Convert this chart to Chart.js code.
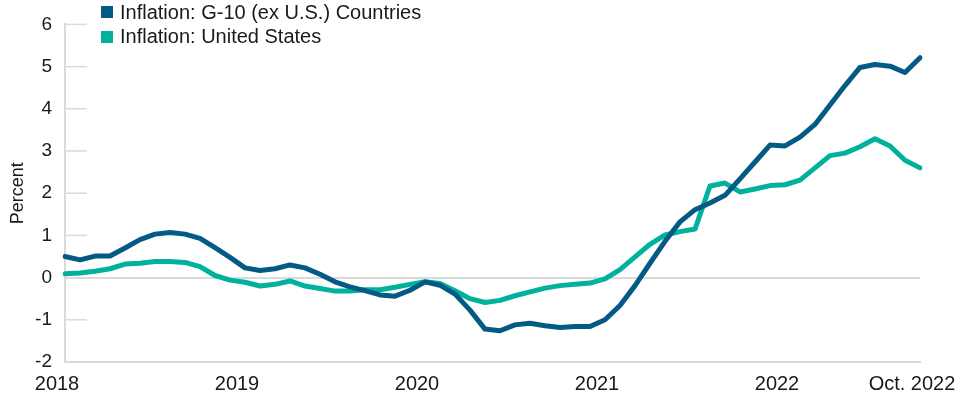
<!DOCTYPE html>
<html>
<head>
<meta charset="utf-8">
<script src="https://cdn.jsdelivr.net/npm/chart.js@4.4.0/dist/chart.umd.min.js"></script>
<style>
  html, body { margin: 0; padding: 0; background: #fff; }
  #wrap { position: relative; width: 960px; height: 395px; }
  #legend {
    position: absolute; left: 101px; top: 0px;
    font-family: "Liberation Sans", Arial, Helvetica, sans-serif;
    font-size: 20px; color: #1a1a1a;
  }
  #legend .item { display: flex; align-items: center; height: 24.5px; }
  #legend .box { width: 12px; height: 12px; margin-right: 7px; }
</style>
</head>
<body>
<div id="wrap">
  <canvas id="inflationChart"></canvas>
  <div id="legend"></div>
</div>
<script>
// monthly observations, Jan 2018 - Oct 2022
const months = [
  '2018-01','2018-02','2018-03','2018-04','2018-05','2018-06','2018-07','2018-08','2018-09','2018-10','2018-11','2018-12',
  '2019-01','2019-02','2019-03','2019-04','2019-05','2019-06','2019-07','2019-08','2019-09','2019-10','2019-11','2019-12',
  '2020-01','2020-02','2020-03','2020-04','2020-05','2020-06','2020-07','2020-08','2020-09','2020-10','2020-11','2020-12',
  '2021-01','2021-02','2021-03','2021-04','2021-05','2021-06','2021-07','2021-08','2021-09','2021-10','2021-11','2021-12',
  '2022-01','2022-02','2022-03','2022-04','2022-05','2022-06','2022-07','2022-08','2022-09','2022-10'
];

const g10Inflation = [
  0.50, 0.42, 0.51, 0.51, 0.70, 0.90, 1.03, 1.07, 1.03, 0.93, 0.71, 0.48,
  0.23, 0.17, 0.21, 0.30, 0.23, 0.08, -0.10, -0.22, -0.31, -0.41, -0.44, -0.30,
  -0.10, -0.18, -0.39, -0.77, -1.22, -1.26, -1.12, -1.08, -1.14, -1.18, -1.16, -1.16,
  -1.00, -0.66, -0.19, 0.34, 0.86, 1.32, 1.61, 1.77, 1.95, 2.34, 2.74, 3.14,
  3.12, 3.33, 3.63, 4.09, 4.55, 4.98, 5.05, 5.01, 4.86, 5.21
];

const usInflation = [
  0.09, 0.11, 0.15, 0.21, 0.32, 0.34, 0.38, 0.38, 0.36, 0.26, 0.05, -0.06,
  -0.11, -0.20, -0.16, -0.08, -0.20, -0.26, -0.32, -0.32, -0.29, -0.29, -0.23, -0.16,
  -0.10, -0.14, -0.31, -0.50, -0.59, -0.54, -0.43, -0.34, -0.25, -0.19, -0.16, -0.13,
  -0.03, 0.19, 0.49, 0.79, 1.01, 1.09, 1.15, 2.17, 2.24, 2.03, 2.10, 2.18,
  2.20, 2.31, 2.60, 2.89, 2.95, 3.10, 3.29, 3.12, 2.78, 2.60
];

// which months get a label on the x axis
const xTickLabels = {
  '2018-01': '2018',
  '2019-01': '2019',
  '2020-01': '2020',
  '2021-01': '2021',
  '2022-01': '2022',
  '2022-10': 'Oct. 2022'
};

const yTicks = [-2, -1, 0, 1, 2, 3, 4, 5, 6];

const seriesNames = ['Inflation: G-10 (ex U.S.) Countries', 'Inflation: United States'];
const seriesColors = ['#035a85', '#00b29c'];

Chart.defaults.font.family = '"Liberation Sans", Arial, Helvetica, sans-serif';
Chart.defaults.color = '#1a1a1a';

// short tick marks drawn inward from the y axis
const innerTicks = {
  id: 'innerTicks',
  beforeDatasetsDraw(chart) {
    const y = chart.scales.y;
    const ctx = chart.ctx;
    const left = chart.chartArea.left;
    ctx.save();
    ctx.strokeStyle = '#dadada';
    ctx.lineWidth = 1.5;
    yTicks.forEach(function(v) {
      const py = y.getPixelForValue(v);
      ctx.beginPath();
      ctx.moveTo(left, py);
      ctx.lineTo(left + 22, py);
      ctx.stroke();
    });
    ctx.restore();
  }
};

const chart = new Chart(document.getElementById('inflationChart'), {
  type: 'line',
  data: {
    labels: months,
    datasets: [
      {
        label: seriesNames[0],
        data: g10Inflation,
        borderColor: seriesColors[0],
        backgroundColor: seriesColors[0],
        borderWidth: 5,
        pointRadius: 0,
        tension: 0,
        borderCapStyle: 'round',
        borderJoinStyle: 'round'
      },
      {
        label: seriesNames[1],
        data: usInflation,
        borderColor: seriesColors[1],
        backgroundColor: seriesColors[1],
        borderWidth: 5,
        pointRadius: 0,
        tension: 0,
        borderCapStyle: 'round',
        borderJoinStyle: 'round'
      }
    ]
  },
  options: {
    responsive: true,
    maintainAspectRatio: false,
    animation: false,
    layout: { padding: { left: 0, right: 40, top: 13, bottom: 0 } },
    plugins: {
      legend: { display: false },
      tooltip: { enabled: false }
    },
    scales: {
      x: {
        offset: false,
        grid: { display: false, drawTicks: false },
        border: { display: true, color: '#dadada', width: 2 },
        ticks: {
          autoSkip: false,
          maxRotation: 0,
          padding: 10,
          labelOffset: -8,
          font: { size: 20 },
          color: '#1a1a1a',
          callback: function(value, index) {
            return xTickLabels[months[index]] || '';
          }
        },
        afterFit: function(scale) {
          scale.height = 33;
          // labels overhang the plot on purpose, don't let them shrink it
          scale.paddingLeft = 0;
          scale.paddingRight = 0;
        }
      },
      y: {
        min: -2,
        max: 6,
        ticks: {
          stepSize: 1,
          padding: 13,
          font: { size: 19 },
          color: '#1a1a1a'
        },
        grid: {
          drawTicks: false,
          lineWidth: 2,
          color: function(ctx) {
            return ctx.tick && ctx.tick.value === 0 ? '#dadada' : 'rgba(0,0,0,0)';
          }
        },
        border: { display: true, color: '#dadada', width: 2 },
        title: {
          display: true,
          text: 'Percent',
          font: { size: 18 },
          color: '#1a1a1a',
          padding: { top: 7, bottom: 0 }
        },
        afterFit: function(scale) { scale.width = 65; }
      }
    }
  },
  plugins: [innerTicks]
});

// html legend, stacked in the top-left of the plot
const legendEl = document.getElementById('legend');
chart.data.datasets.forEach(function(ds) {
  const item = document.createElement('div');
  item.className = 'item';
  item.innerHTML = '<span class="box" style="background:' + ds.borderColor + '"></span><span>' + ds.label + '</span>';
  legendEl.appendChild(item);
});
</script>
</body>
</html>
